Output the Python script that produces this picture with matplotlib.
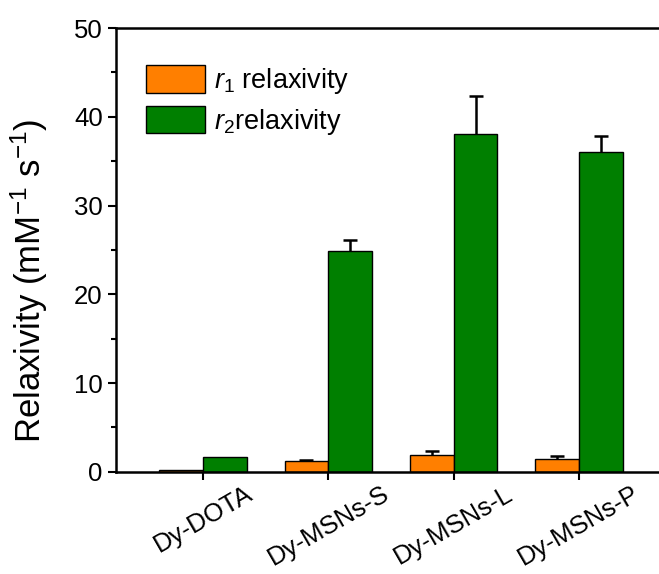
import numpy as np
import matplotlib.pyplot as plt

plt.rcParams['font.family'] = ['Liberation Sans', 'DejaVu Sans']
plt.rcParams['mathtext.fontset'] = 'custom'
plt.rcParams['mathtext.rm'] = 'Liberation Sans'
plt.rcParams['mathtext.it'] = 'Liberation Sans:italic'

samples = ["Dy-DOTA", "Dy-MSNs-S", "Dy-MSNs-L", "Dy-MSNs-P"]
r1 = [0.15, 1.27, 1.85, 1.5]
r1_err = [np.nan, 0.1, 0.5, 0.27]  # no error bar shown for Dy-DOTA
r2 = [1.65, 24.9, 38.1, 36.05]
r2_err = [np.nan, 1.2, 4.3, 1.75]

fig = plt.figure(figsize=(6.59, 5.74), dpi=100)
ax = fig.add_axes([0.176, 0.178, 0.824, 0.773])

x = np.arange(len(samples))
w = 0.35
err_kw = dict(elinewidth=1.8, capsize=5, capthick=1.8, ecolor="black")
b1 = ax.bar(x - w / 2, r1, w, yerr=[np.zeros(4), r1_err], color="#FF7F00",
            edgecolor="black", linewidth=1, error_kw=err_kw,
            label=r"$\mathit{r}_1$ relaxivity")
b2 = ax.bar(x + w / 2, r2, w, yerr=[np.zeros(4), r2_err], color="#007F00",
            edgecolor="black", linewidth=1, error_kw=err_kw,
            label=r"$\mathit{r}_2$relaxivity")
# only the upper half of the error bars
for b in (b1, b2):
    b.errorbar.lines[1][0].set_visible(False)

ax.set_xlim(-0.696, 3.64)
ax.set_ylim(0, 50)
ax.set_xticks(x)
ax.set_xticklabels(samples, rotation=30, fontsize=18.5)
ax.set_yticks(np.arange(0, 51, 10))
ax.set_yticks(np.arange(5, 50, 10), minor=True)
ax.tick_params(axis="y", labelsize=18.5, width=1.5, length=6)
ax.tick_params(axis="y", which="minor", width=1.5, length=3.5)
ax.tick_params(axis="x", width=1.5, length=6, pad=1)
ax.set_ylabel(r"Relaxivity (mM$^{-1}$ s$^{-1}$)", fontsize=25)
ax.yaxis.set_label_coords(-0.122, 0.43)

ax.spines["right"].set_visible(False)
for s in ["left", "bottom", "top"]:
    ax.spines[s].set_linewidth(1.8)

ax.legend(loc="upper left", bbox_to_anchor=(0.035, 0.941), frameon=False,
          fontsize=19.5, handlelength=2.2, handleheight=1.2,
          handletextpad=0.3, labelspacing=0.35, borderaxespad=0)

fig.savefig("out.png", dpi=100)
